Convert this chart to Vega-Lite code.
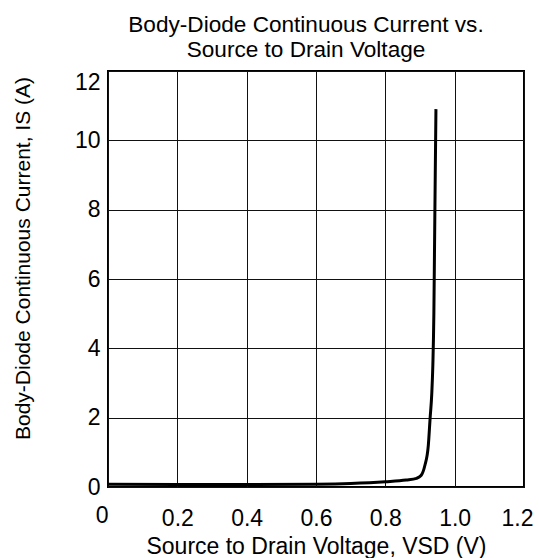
{
  "$schema": "https://vega.github.io/schema/vega-lite/v6.json",
  "autosize": {"type": "none"},
  "padding": {"left": 108, "top": 71, "right": 15, "bottom": 71},
  "width": 416,
  "height": 416,
  "background": "white",
  "title": {
    "text": ["Body-Diode Continuous Current vs.", "Source to Drain Voltage"],
    "font": "Liberation Sans",
    "fontSize": 22.6,
    "fontWeight": "normal",
    "color": "black",
    "lineHeight": 25,
    "anchor": "middle",
    "offset": 9,
    "dx": -10
  },
  "config": {
    "view": {"stroke": "black", "strokeWidth": 2},
    "axis": {
      "labelFont": "Liberation Sans",
      "titleFont": "Liberation Sans",
      "labelFontSize": 23,
      "titleFontSize": 23,
      "titleFontWeight": "normal",
      "labelColor": "black",
      "titleColor": "black",
      "domain": false,
      "ticks": false,
      "tickSize": 0,
      "grid": true,
      "gridColor": "#111111",
      "gridWidth": 1,
      "gridOpacity": 1
    }
  },
  "data": {
    "values": [
      {"v": 0, "i": 0.08},
      {"v": 0.2, "i": 0.07},
      {"v": 0.4, "i": 0.07},
      {"v": 0.6, "i": 0.08},
      {"v": 0.7, "i": 0.1},
      {"v": 0.8, "i": 0.15},
      {"v": 0.86, "i": 0.2},
      {"v": 0.89, "i": 0.25},
      {"v": 0.903, "i": 0.33},
      {"v": 0.914, "i": 0.62},
      {"v": 0.924, "i": 1.2},
      {"v": 0.929, "i": 1.96},
      {"v": 0.934, "i": 2.7},
      {"v": 0.937, "i": 3.5},
      {"v": 0.94, "i": 5},
      {"v": 0.942, "i": 7},
      {"v": 0.944, "i": 9},
      {"v": 0.946, "i": 10.9}
    ]
  },
  "mark": {"type": "line", "color": "black", "strokeWidth": 3, "interpolate": "monotone"},
  "encoding": {
    "x": {
      "field": "v",
      "type": "quantitative",
      "scale": {"domain": [0, 1.2], "nice": false, "zero": false},
      "axis": {
        "title": "Source to Drain Voltage, VSD (V)",
        "values": [0, 0.2, 0.4, 0.6, 0.8, 1.0, 1.2],
        "labelExpr": "datum.value == 0 ? '0' : format(datum.value, '.1f')",
        "labelAlign": {"condition": {"test": "datum.value == 0", "value": "right"}, "value": "center"},
        "labelPadding": {"condition": {"test": "datum.value == 0", "value": 17}, "value": 20},
        "labelOffset": {"condition": {"test": "datum.value > 1.1", "value": -7}, "value": 0},
        "labelFlush": false,
        "titleY": 66,
        "titleBaseline": "alphabetic"
      }
    },
    "y": {
      "field": "i",
      "type": "quantitative",
      "scale": {"domain": [0, 12], "nice": false},
      "axis": {
        "title": "Body-Diode Continuous Current, IS (A)",
        "titleFontSize": 21,
        "values": [0, 2, 4, 6, 8, 10, 12],
        "labelPadding": 8,
        "labelFlush": false,
        "labelBaseline": {"condition": {"test": "datum.value == 12", "value": "top"}, "value": "middle"},
        "titleAngle": -90,
        "titleX": -79,
        "titleY": 187,
        "titleAlign": "center",
        "titleBaseline": "alphabetic"
      }
    }
  }
}
